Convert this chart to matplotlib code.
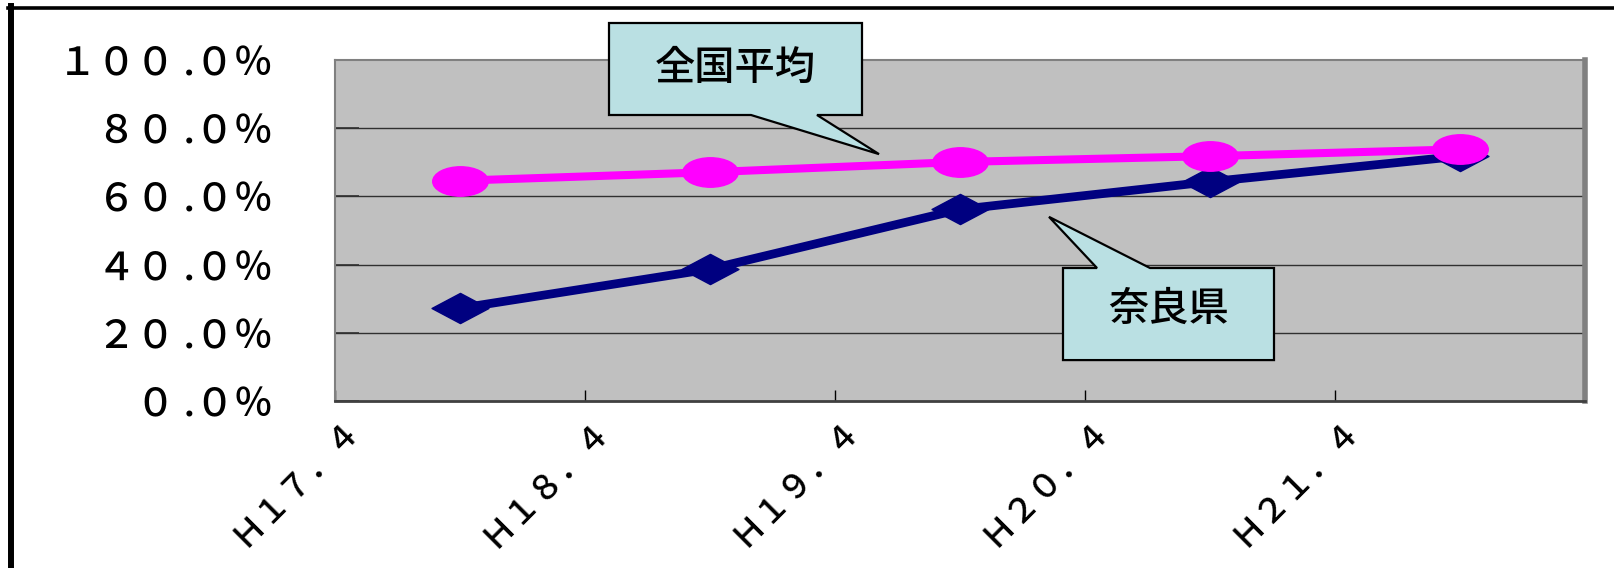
import matplotlib
matplotlib.use("Agg")
import matplotlib.pyplot as plt
from matplotlib.path import Path
from matplotlib.patches import Polygon
from matplotlib.lines import Line2D
import numpy as np

plt.rcParams['font.family'] = ['Noto Sans CJK JP', 'DejaVu Sans']
plt.rcParams['font.weight'] = 'medium'

# ── Data ───────────────────────────────────────────────────────────────────────
periods = ["Ｈ１７．４", "Ｈ１８．４", "Ｈ１９．４", "Ｈ２０．４", "Ｈ２１．４"]
national_avg = [64.6, 67.1, 70.1, 71.8, 73.8]   # 全国平均
nara = [27.2, 38.7, 56.2, 64.3, 71.8]           # 奈良県
y_ticks = [0, 20, 40, 60, 80, 100]
y_tick_labels = ["０ .０％", "２０ .０％", "４０ .０％", "６０ .０％", "８０ .０％", "１００ .０％"]

PINK = "#FF00FF"
NAVY = "#000080"
PLOT_BG = "#C0C0C0"
CALLOUT_BG = "#BAE0E3"

# flattened marker shapes (Excel style)
circ = Path.unit_circle()
ellipse = Path(circ.vertices * np.array([1.0, 0.53]), circ.codes)
diamond = Path([(-1, 0), (0, 0.53), (1, 0), (0, -0.53), (-1, 0)],
               [Path.MOVETO, Path.LINETO, Path.LINETO, Path.LINETO, Path.CLOSEPOLY])

fig = plt.figure(figsize=(16.14, 5.68), dpi=100)
ax = fig.add_axes([335 / 1614, 1 - 401 / 568, 1250 / 1614, 341 / 568])
ax.set_facecolor(PLOT_BG)

n = len(periods)
x_pts = np.arange(n) + 0.5
ax.plot(x_pts, nara, color=NAVY, lw=6.3, marker=diamond, ms=41,
        mfc=NAVY, mec=NAVY, solid_capstyle="butt", zorder=3)
ax.plot(x_pts, national_avg, color=PINK, lw=5.8, marker=ellipse, ms=40,
        mfc=PINK, mec=PINK, solid_capstyle="butt", zorder=4)

ax.set_xlim(0, n)
ax.set_ylim(0, 100)

# grid
for v in y_ticks[1:-1]:
    ax.axhline(v, color="#303030", lw=1.0, zorder=1)

ax.set_yticks(y_ticks)
ax.set_yticklabels(y_tick_labels, fontsize=28)
ax.tick_params(axis="y", direction="in", length=17, width=1.2, color="#303030", pad=45)
ax.set_xticks(np.arange(n + 1))
ax.set_xticklabels([])
ax.tick_params(axis="x", direction="in", length=8, width=1, color="black")

for i, lab in enumerate(periods):
    ax.annotate(lab, xy=(i, 0), xycoords="data", xytext=(14, -16),
                textcoords="offset points", ha="right", va="center",
                rotation=45, rotation_mode="anchor", fontsize=24,
                annotation_clip=False)

for side in ["left", "top"]:
    ax.spines[side].set_color("#808080")
    ax.spines[side].set_linewidth(1.5)
ax.spines["right"].set_color("#808080")
ax.spines["right"].set_linewidth(4)
ax.spines["bottom"].set_color("#404040")
ax.spines["bottom"].set_linewidth(2)

# ── Callouts ───────────────────────────────────────────────────────────────────
def callout(verts, text, tx, ty):
    poly = Polygon(verts, closed=True, facecolor=CALLOUT_BG, edgecolor="black",
                   lw=1.6, clip_on=False, zorder=6)
    ax.add_patch(poly)
    ax.text(tx, ty, text, ha="center", va="center", fontsize=29, zorder=7,
            clip_on=False)

# 全国平均: box above, pointer down-right to the pink line
x0, x1, yt, yb = 1.096, 2.108, 110.85, 83.87
callout([(x0, yt), (x1, yt), (x1, yb), (1.928, yb), (2.176, 72.4),
         (1.664, yb), (x0, yb)], "全国平均", (x0 + x1) / 2, 97.4)

# 奈良県: box below, pointer up-left to the navy line
x0, x1, yt, yb = 2.912, 3.756, 39.0, 12.0
callout([(x0, yb), (x0, yt), (3.048, yt), (2.856, 54.0), (3.26, yt),
         (x1, yt), (x1, yb)], "奈良県", (x0 + x1) / 2, 27.0)

# outer frame (top and left edges)
fig.add_artist(Line2D([8 / 1614, 1], [1 - 7.5 / 568, 1 - 7.5 / 568],
                      transform=fig.transFigure, color="black", lw=2.6))
fig.add_artist(Line2D([11 / 1614, 11 / 1614], [0, 1 - 6 / 568],
                      transform=fig.transFigure, color="black", lw=4.3))

fig.savefig("out.png", dpi=100)
